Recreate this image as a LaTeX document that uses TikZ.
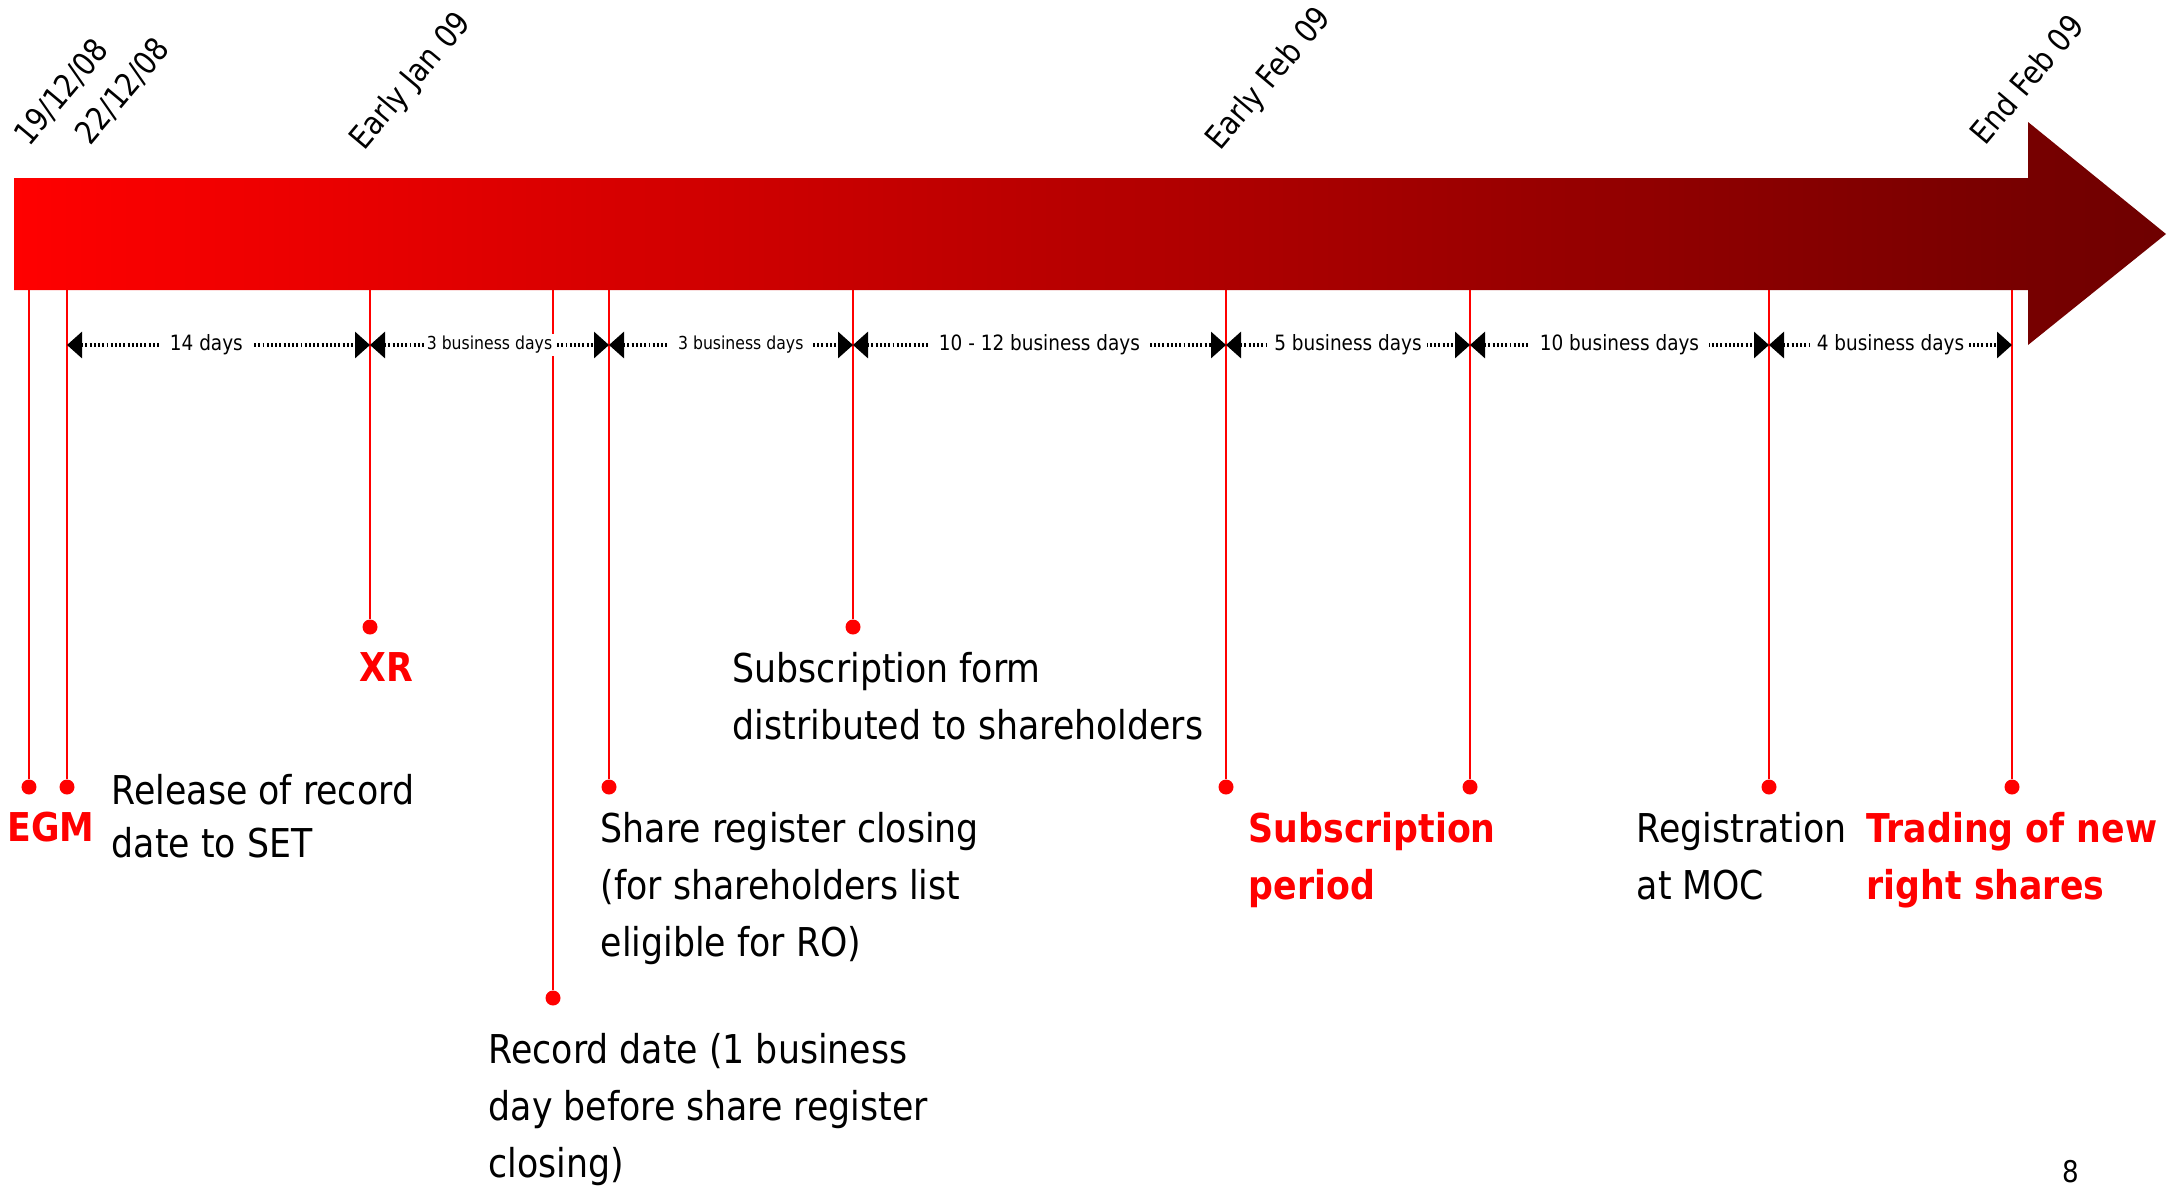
\documentclass[tikz,border=0pt]{standalone}
\usepackage{fontspec}
\setmainfont{DejaVu Sans}[FakeStretch=0.875]
\usetikzlibrary{arrows.meta}

\definecolor{tlred}{RGB}{255,0,0}
\definecolor{tlmid}{RGB}{205,0,0}
\definecolor{tldark}{RGB}{110,0,0}

\tikzset{
  tick/.style={draw=tlred,line width=0.7pt},
  dot/.style={circle,fill=tlred,inner sep=0pt,minimum size=0.15cm},
  span/.style={line width=0.9pt,dash pattern=on 0.55pt off 0.65pt,
    {Triangle[length=0.15cm,width=0.26cm]}-{Triangle[length=0.15cm,width=0.26cm]}},
  spanlabel/.style={fill=white,inner xsep=0.1cm,inner ysep=0.02cm,font=\fontsize{6}{7}\selectfont},
  event/.style={anchor=north west,inner sep=0pt,align=left,font=\fontsize{11.3}{16.2}\selectfont},
  keyevent/.style={event,text=tlred,font=\fontsize{11.3}{16.2}\selectfont\bfseries},
  datelabel/.style={anchor=base west,inner sep=0pt,rotate=50,font=\fontsize{9.1}{11}\selectfont},
}

\begin{document}
\begin{tikzpicture}
    \useasboundingbox (0,0) rectangle (21.79,11.85);
    \path[left color=tlred,middle color=tlmid,right color=tldark] (0.14,8.95) -- (0.14,10.07) -- (20.28,10.07) -- (20.28,10.63) -- (21.66,9.51) -- (20.28,8.40) -- (20.28,8.95) -- cycle;%
    \coordinate (egm top) at (0.29,8.95);
    \coordinate (rel top) at (0.67,8.95);
    \coordinate (xr top) at (3.70,8.95);
    \coordinate (rec top) at (5.53,8.95);
    \coordinate (shr top) at (6.09,8.95);
    \coordinate (sub top) at (8.53,8.95);
    \coordinate (sps top) at (12.26,8.95);
    \coordinate (spe top) at (14.70,8.95);
    \coordinate (reg top) at (17.69,8.95);
    \coordinate (trd top) at (20.12,8.95);%
    \node[dot] (egm dot) at (0.29,3.98) {};
    \node[dot] (rel dot) at (0.67,3.98) {};
    \node[dot] (xr dot) at (3.70,5.58) {};
    \node[dot] (rec dot) at (5.53,1.87) {};
    \node[dot] (shr dot) at (6.09,3.98) {};
    \node[dot] (sub dot) at (8.53,5.58) {};
    \node[dot] (sps dot) at (12.26,3.98) {};
    \node[dot] (spe dot) at (14.70,3.98) {};
    \node[dot] (reg dot) at (17.69,3.98) {};
    \node[dot] (trd dot) at (20.12,3.98) {};%
    \draw[tick] (egm top) -- (egm dot);
    \draw[tick] (rel top) -- (rel dot);
    \draw[tick] (xr top) -- (xr dot);
    \draw[tick] (rec top) -- (rec dot);
    \draw[tick] (shr top) -- (shr dot);
    \draw[tick] (sub top) -- (sub dot);
    \draw[tick] (sps top) -- (sps dot);
    \draw[tick] (spe top) -- (spe dot);
    \draw[tick] (reg top) -- (reg dot);
    \draw[tick] (trd top) -- (trd dot);%
    \coordinate (rel row) at (0.67,8.40);
    \coordinate (xr row) at (3.70,8.40);
    \coordinate (shr row) at (6.09,8.40);
    \coordinate (sub row) at (8.53,8.40);
    \coordinate (sps row) at (12.26,8.40);
    \coordinate (spe row) at (14.70,8.40);
    \coordinate (reg row) at (17.69,8.40);
    \coordinate (trd row) at (20.12,8.40);%
    \draw[span] (rel row) -- (xr row) node[spanlabel,pos=0.46] {14 days};
    \draw[span] (xr row) -- (shr row) node[spanlabel,midway,inner xsep=0.03cm,font=\fontsize{5.1}{6}\selectfont] {3 business days};
    \draw[span] (shr row) -- (sub row) node[spanlabel,pos=0.54,font=\fontsize{5.1}{6}\selectfont] {3 business days};
    \draw[span] (sub row) -- (sps row) node[spanlabel,midway] {10 - 12 business days};
    \draw[span] (sps row) -- (spe row) node[spanlabel,midway,inner xsep=0.05cm] {5 business days};
    \draw[span] (spe row) -- (reg row) node[spanlabel,midway] {10 business days};
    \draw[span] (reg row) -- (trd row) node[spanlabel,midway,inner xsep=0.05cm] {4 business days};%
    \node[datelabel] (d1) at (0.29,10.37) {19/12/08};
    \node[datelabel] (d2) at (0.90,10.38) {22/12/08};
    \node[datelabel] (d3) at (3.64,10.33) {Early Jan 09};
    \node[datelabel] (d4) at (12.20,10.33) {Early Feb 09};
    \node[datelabel] (d5) at (19.85,10.38) {End Feb 09};%
    \node[keyevent] (egm) at (0.07,3.74) {EGM};
    \node[event,font=\fontsize{11.3}{15.1}\selectfont] (rel) at (1.11,4.11) {Release of record\\date to SET};
    \node[keyevent] (xr) at (3.59,5.33) {XR};
    \node[event] (sub) at (7.32,5.33) {Subscription form\\distributed to shareholders};
    \node[event] (shr) at (6.00,3.73) {Share register closing\\(for shareholders list\\eligible for RO)};
    \node[event] (rec) at (4.88,1.52) {Record date (1 business\\day before share register\\closing)};
    \node[keyevent] (sps) at (12.48,3.73) {Subscription\\period};
    \node[event] (reg) at (16.36,3.73) {Registration\\at MOC};
    \node[keyevent] (trd) at (18.66,3.73) {Trading of new\\right shares};%
    \node[anchor=south,inner sep=0pt,font=\fontsize{8.5}{10}\selectfont] (page) at (20.71,0.01) {8};
\end{tikzpicture}
\end{document}
